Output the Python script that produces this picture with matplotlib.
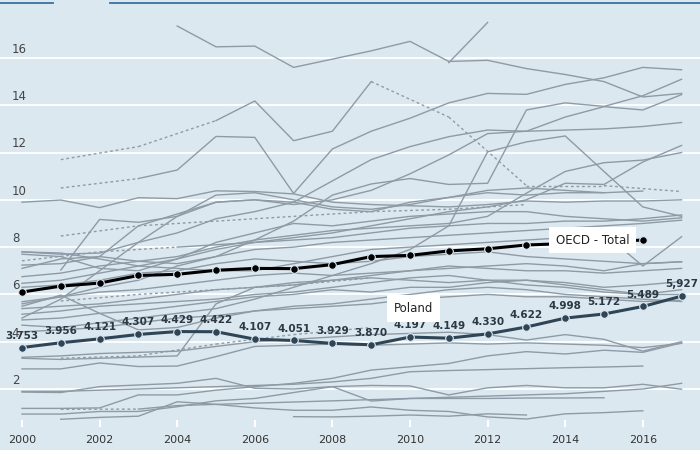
import numpy as np
import matplotlib
matplotlib.use('Agg')
import matplotlib.pyplot as plt
from matplotlib.lines import Line2D

N = None
years = list(range(2000, 2018))

poland = [3.753, 3.956, 4.121, 4.307, 4.429, 4.422, 4.107, 4.051, 3.929,
          3.870, 4.197, 4.149, 4.330, 4.622, 4.998, 5.172, 5.489, 5.927]
poland_labels = ['3.753', '3.956', '4.121', '4.307', '4.429', '4.422', '4.107', '4.051', '3.929',
                 '3.870', '4.197', '4.149', '4.330', '4.622', '4.998', '5.172', '5.489', '5,927']

oecd_years = list(range(2000, 2017))
oecd = [6.1, 6.35, 6.48, 6.8, 6.85, 7.02, 7.1, 7.09, 7.26, 7.6, 7.65, 7.84, 7.93,
        8.09, 8.15, 8.22, 8.3]

# other countries, None = no data (gaps drawn dotted)
top_group = [
    [N, N, N, N, 17.35, 16.47, 16.5, 15.6, 15.95, 16.3, 16.7, 15.85, 15.9, 15.55, 15.3, 15.0, 14.35, 14.5],
    [N, N, N, N, N, N, N, N, N, N, N, 15.8, 17.5, N, N, N, N, N],
    [N, 11.7, N, 12.25, N, 13.35, 14.18, 12.5, 12.9, 15.0, N, 13.5, N, 10.6, N, 10.6, N, 10.35],
    [N, 10.5, N, 10.9, 11.26, 12.68, 12.64, 10.27, 12.15, 12.9, 13.45, 14.1, 14.5, 14.46, 14.88, 15.16, 15.6, 15.5],
    [9.9, 9.99, 9.67, 10.09, 10.05, 10.38, 10.35, 10.25, 9.9, 9.8, 9.75, 9.7, 9.8, 9.95, 9.9, 9.95, 9.95, 10.0],
    [7.8, 7.7, 7.75, 8.2, 8.6, 9.2, 9.5, 9.9, 10.8, 11.7, 12.25, 12.67, 12.95, 12.9, 12.95, 13.0, 13.1, 13.27],
    [N, 7.03, 9.17, 9.05, 9.3, 9.9, 10.0, 9.8, 10.0, 10.4, 11.1, 11.9, 12.8, 12.9, 13.5, 13.94, 13.8, 14.45],
    [5.6, 5.9, 6.3, 6.6, 7.2, 7.6, 8.3, 9.1, 10.2, 10.67, 10.9, 10.65, 10.7, 13.8, 14.1, 13.95, 14.4, 15.1],
    [4.7, 4.6, 4.8, 5.0, 5.2, 5.4, 5.8, 6.3, 6.8, 7.3, 7.9, 8.9, 12.03, 12.45, 12.7, 11.2, 9.7, 9.3],
    [6.75, 6.9, 7.2, 7.4, 7.6, 8.0, 8.3, 8.5, 8.7, 8.8, 8.9, 9.0, 9.3, 10.28, 11.2, 11.57, 11.68, 12.0],
    [6.47, 6.6, 6.9, 7.2, 7.5, 7.9, 8.2, 8.4, 8.6, 8.9, 9.2, 9.5, 9.7, 10.0, 10.7, 10.65, 11.6, 12.3],
]

middle_group = [
    [7.42, N, 7.8, N, 8.0, 8.1, 8.2, 8.3, 8.4, 8.6, 8.8, 8.9, 9.0, 9.0, 9.1, 9.1, 9.2, 9.36],
    [N, 8.47, N, 8.9, N, 9.1, N, 9.3, N, 9.5, N, 9.6, N, 9.8, N, N, N, N],
    [7.24, 7.3, 7.6, 8.9, 9.4, 9.9, 10.0, 9.9, 9.6, 9.5, 9.9, 10.1, 10.3, 10.2, 10.3, 10.3, 10.37, N],
    [7.7, 7.6, 7.1, 7.0, 7.5, 8.2, 8.6, 9.0, 8.9, 9.1, 9.3, 9.4, 9.5, 9.5, 9.3, 9.2, 9.1, 9.24],
    [7.1, 7.5, 7.6, 7.4, 7.3, 7.6, 7.9, 8.0, 8.2, 8.3, 8.4, 8.5, 8.6, 8.7, 8.8, 8.9, 9.0, 9.14],
    [7.8, 7.75, 7.5, 7.2, 7.1, 7.0, 7.0, 7.3, 7.6, 7.9, 8.0, 8.1, 8.2, 8.3, 8.4, 8.58, 7.2, 8.44],
    [6.3, 6.4, 6.6, 6.9, 7.0, 7.3, 7.5, 7.4, 7.3, 7.4, 7.6, 7.7, 7.8, 7.6, 7.5, 7.4, 7.3, 7.38],
    [5.69, 5.9, 6.1, 6.2, 6.4, 6.6, 6.8, 6.9, 6.8, 6.9, 7.0, 7.2, 7.1, 7.0, 7.0, 6.9, 7.0, 7.1],
    [5.4, 5.5, 5.6, 5.8, 6.0, 6.2, 6.3, 6.5, 6.6, 6.7, 6.6, 6.5, 6.6, 6.6, 6.5, 6.3, 6.4, 6.54],
    [5.16, 5.3, 5.5, 5.6, 5.7, 5.8, 6.0, 6.1, 6.3, 6.5, 6.7, 6.8, 6.6, 6.4, 6.3, 6.1, 6.0, 6.2],
    [4.92, 5.0, 5.2, 5.3, 5.5, 5.7, 5.9, 6.0, 6.2, 6.1, 6.3, 6.3, 6.5, 6.6, 6.4, 6.2, 6.0, 6.0],
    [N, 5.72, N, 6.0, N, 6.2, N, 6.4, N, 6.7, N, N, N, N, N, N, N, N],
    [5.5, 5.97, 5.2, 4.5, 4.6, 5.0, 5.3, 5.5, 5.6, 5.8, 6.0, 6.2, 6.3, 6.2, 6.0, 5.9, 5.8, 5.7],
    [3.3, 3.25, 3.3, 3.35, 3.4, 5.6, 6.3, 6.4, 6.6, 6.8, 7.0, 7.1, 7.2, 7.3, 7.2, 7.0, 7.3, 7.38],
    [5.0, 5.8, 7.0, 8.2, 9.3, 10.2, 10.3, 10.0, 9.7, 9.6, 9.8, 10.1, 10.4, 10.5, 10.4, 10.3, N, N],
    [4.42, 4.5, 4.6, 4.8, 5.0, 5.1, 5.3, 5.4, 5.5, 5.6, 5.8, 5.9, 6.0, 5.9, 5.9, 5.8, 5.7, 5.75],
]

lower_group = [
    [3.34, 3.4, 3.5, 3.55, 3.6, 3.8, 4.0, 4.1, 4.2, 4.3, 4.35, 4.4, 4.3, 4.07, 4.3, 4.1, 3.6, 4.0],
    [2.85, 2.85, 3.1, 2.95, 2.97, 3.37, 3.8, 3.85, 3.9, 3.85, 3.9, 3.95, 3.9, 3.95, 3.9, 3.85, 3.75, 3.93],
    [N, 3.3, N, 3.4, N, 3.9, N, 4.3, N, 4.6, N, N, N, N, N, N, N, N],
    [1.87, 1.85, 2.1, 2.17, 2.24, 2.45, 2.03, 2.0, 2.1, 2.15, 2.13, 1.75, 2.05, 2.15, 2.05, 2.05, 2.2, 1.99],
    [1.18, 1.18, 1.2, 1.75, 1.75, 1.95, 2.1, 2.24, 2.45, 2.8, 2.94, 3.08, 3.4, 3.58, 3.48, 3.64, 3.55, 3.95],
    [1.9, 1.9, 1.95, 2.0, 2.05, 2.1, 2.15, 2.2, 2.3, 2.45, 2.73, 2.78, 2.82, 2.86, 2.9, 2.93, 2.97, N],
    [N, 0.72, 0.8, 0.85, 1.46, 1.35, 1.2, 1.1, 1.1, 1.24, 1.1, 1.05, 0.82, 0.73, 0.95, 1.0, 1.08, N],
    [0.94, 0.94, 1.05, 1.05, 1.25, 1.5, 1.6, 1.85, 2.1, 1.49, 1.6, 1.65, 1.7, 1.75, 1.8, 1.9, 2.0, 2.24],
    [N, N, N, N, N, N, N, 0.83, 0.82, 0.85, 0.9, 0.85, 0.95, 0.9, N, N, N, N],
    [N, 1.14, N, 1.15, 1.3, 1.35, 1.4, 1.45, 1.5, 1.55, 1.6, 1.6, 1.6, 1.62, 1.62, 1.63, N, N],
]

BG = '#dce8f0'
GRAY = '#8e9ba5'


def draw_country(ax, vals):
    x = np.array(years)
    y = np.array([np.nan if v is None else v for v in vals], dtype=float)
    ax.plot(x, y, color=GRAY, lw=1, zorder=2)
    ok = ~np.isnan(y)
    xs, ys = x[ok], y[ok]
    for i in range(len(xs) - 1):
        if xs[i + 1] - xs[i] > 1:
            ax.plot(xs[i:i + 2], ys[i:i + 2], color=GRAY, lw=1, ls=(0, (2, 2)), zorder=2)


fig = plt.figure(figsize=(7, 4.5), dpi=100, facecolor=BG)
ax = fig.add_axes([0, 23 / 450, 1, 427 / 450])
ax.set_facecolor(BG)

for grp in (top_group, middle_group, lower_group):
    for vals in grp:
        draw_country(ax, vals)

ax.plot(oecd_years, oecd, color='black', lw=2.2, marker='o', ms=5.5,
        mec=BG, mew=0.8, zorder=4)
ax.plot(years, poland, color='#2f4556', lw=2.2, marker='o', ms=5.5,
        mec=BG, mew=0.8, zorder=5)

for yr, v, lab in zip(years, poland, poland_labels):
    ax.annotate(lab, (yr, v), xytext=(0, 5), textcoords='offset points',
                ha='center', va='bottom', fontsize=7.5, color='#2b3945',
                fontweight='semibold', zorder=6)

ax.text(2014.7, 8.3, 'OECD - Total', ha='center', va='center', fontsize=8.5,
        color='#222222', zorder=7,
        bbox=dict(boxstyle='square,pad=0.55', fc='white', ec='none'))
ax.text(2010.09, 5.42, 'Poland', ha='center', va='center', fontsize=8.5,
        color='#222222', zorder=7,
        bbox=dict(boxstyle='square,pad=0.6', fc='white', ec='none'))

ax.set_xlim(1999.433, 2017.474)
ax.set_ylim(0.393, 18.45)

yt = [2, 4, 6, 8, 10, 12, 14, 16]
ax.set_yticks(yt)
ax.set_yticklabels([])
ax.tick_params(axis='y', length=0)
ax.grid(axis='y', color='white', lw=1.3, zorder=1)
ax.set_axisbelow(True)
for v in yt:
    ax.annotate(str(v), xy=(0, v), xycoords=('axes fraction', 'data'),
                xytext=(8.5, 1.5), textcoords='offset points',
                ha='left', va='bottom', fontsize=8.5, color='#444444')

ax.set_xticks(list(range(2000, 2017, 2)))
ax.tick_params(axis='x', direction='in', length=5, width=1.5, color='white',
               labelsize=8, labelcolor='#333333', pad=6)

for s in ax.spines.values():
    s.set_visible(False)

fig.add_artist(Line2D([0, 53 / 700], [1 - 3 / 450] * 2, color='#3a72a0', lw=1.3))
fig.add_artist(Line2D([110 / 700, 1], [1 - 3 / 450] * 2, color='#3a72a0', lw=1.3))

fig.savefig('out.png', dpi=100, facecolor=BG)
